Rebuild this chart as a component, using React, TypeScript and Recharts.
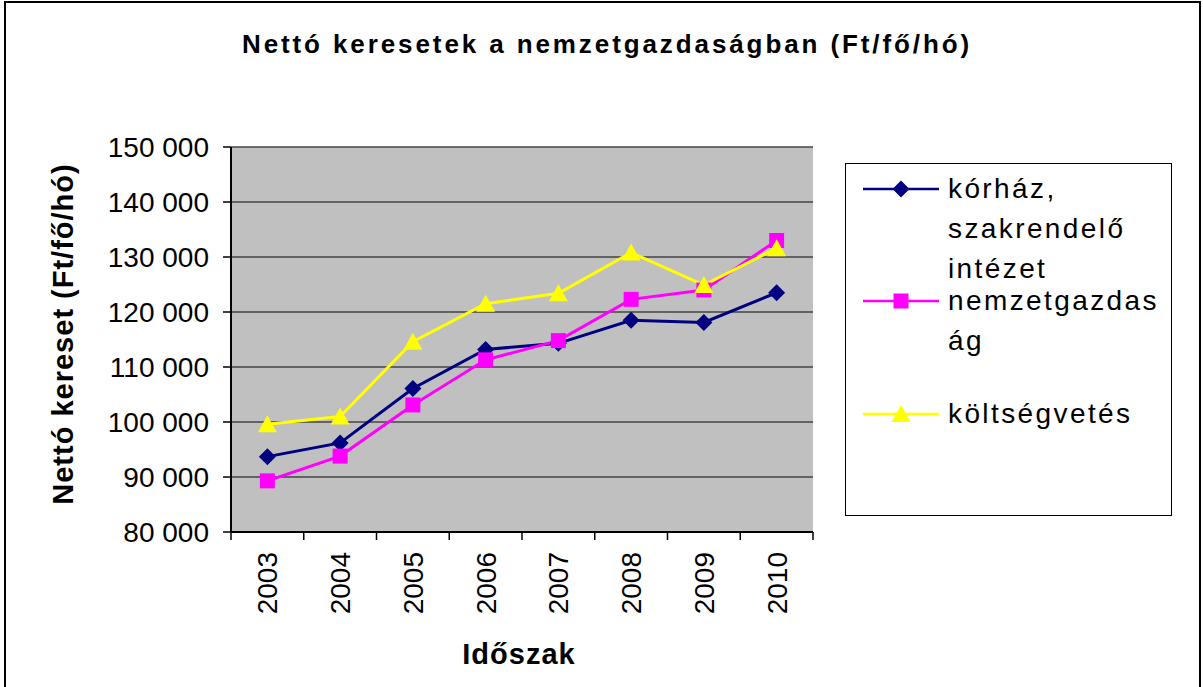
import React from 'react';
import { LineChart, Line, XAxis, YAxis, CartesianGrid } from 'recharts';

const YEARS = ['2003', '2004', '2005', '2006', '2007', '2008', '2009', '2010'];
const KORHAZ = [93700, 96200, 106100, 113200, 114300, 118500, 118100, 123500];
const NEMZETGAZDASAG = [89300, 93800, 103100, 111300, 114800, 122300, 124000, 133000];
const KOLTSEGVETES = [99600, 101000, 114600, 121500, 123400, 130800, 124900, 131600];
const Y_TICKS = [80000, 90000, 100000, 110000, 120000, 130000, 140000, 150000];

const TITLE = 'Nettó keresetek a nemzetgazdaságban (Ft/fő/hó)';
const Y_TITLE = 'Nettó kereset (Ft/fő/hó)';
const X_TITLE = 'Időszak';

// legend text is wrapped the same way as in the original
const LEGEND_LINES = [['kórház,', 'szakrendelő', 'intézet'], ['nemzetgazdas', 'ág'], ['költségvetés']];

const FONT = '"Liberation Sans", Arial, sans-serif';
const W = 1203;
const H = 687;
const MARGIN = { top: 147, right: 390, left: 0, bottom: 0 };
const Y_AXIS_W = 231;
const X_AXIS_H = 155;
const PLOT_W = W - MARGIN.right - Y_AXIS_W;
const BAND = PLOT_W / YEARS.length;

type Shape = 'diamond' | 'square' | 'triangle';

const series: { key: string; name: string; color: string; shape: Shape }[] = [
  { key: 'korhaz', name: 'kórház, szakrendelő intézet', color: '#000080', shape: 'diamond' },
  { key: 'nemzet', name: 'nemzetgazdaság', color: '#FF00FF', shape: 'square' },
  { key: 'koltseg', name: 'költségvetés', color: '#FFFF00', shape: 'triangle' },
];

const data = YEARS.map((year, i) => ({
  year,
  korhaz: KORHAZ[i],
  nemzet: NEMZETGAZDASAG[i],
  koltseg: KOLTSEGVETES[i],
}));

const fmt = (v: number) => String(v).replace(/\B(?=(\d{3})+(?!\d))/g, ' ');

const Marker = ({ cx, cy, shape, color }: { cx: number; cy: number; shape: Shape; color: string }) => {
  if (shape === 'diamond') {
    return <polygon points={`${cx},${cy - 8.5} ${cx + 8.5},${cy} ${cx},${cy + 8.5} ${cx - 8.5},${cy}`} fill={color} />;
  }
  if (shape === 'square') {
    return <rect x={cx - 7.5} y={cy - 7.5} width={15} height={15} fill={color} />;
  }
  return <polygon points={`${cx},${cy - 9} ${cx + 9.5},${cy + 8} ${cx - 9.5},${cy + 8}`} fill={color} />;
};

const dotFor = (shape: Shape, color: string) => (p: any) => {
  if (p.cx == null || p.cy == null) return <g key={p.index} />;
  return (
    <g key={`${shape}-${p.index}`}>
      <Marker cx={p.cx} cy={p.cy} shape={shape} color={color} />
    </g>
  );
};

const YearTick = (props: any) => {
  const { x, y, payload, index } = props;
  const last = index === YEARS.length - 1;
  return (
    <g>
      <line x1={x - BAND / 2} y1={y} x2={x - BAND / 2} y2={y + 8} stroke="#000" strokeWidth={1.5} />
      {last && <line x1={x + BAND / 2} y1={y} x2={x + BAND / 2} y2={y + 8} stroke="#000" strokeWidth={1.5} />}
      <text
        x={x}
        y={y + 20}
        transform={`rotate(-90, ${x}, ${y + 20})`}
        textAnchor="end"
        dy="0.36em"
        fontSize={28}
        fontFamily={FONT}
        fill="#000"
      >
        {payload.value}
      </text>
    </g>
  );
};

export default function App() {
  return (
    <div style={{ position: 'fixed', left: 0, top: 0, width: W, height: H, overflow: 'hidden', background: '#fff', fontFamily: FONT }}>
      <div style={{ position: 'absolute', left: 4, top: 1, width: 1193, height: 720, border: '2px solid #000' }} />

      <LineChart width={W} height={H} data={data} margin={MARGIN}>
        <CartesianGrid vertical={false} fill="#C0C0C0" fillOpacity={1} stroke="#444" strokeWidth={1.5} />
        <XAxis
          dataKey="year"
          interval={0}
          height={X_AXIS_H}
          padding={{ left: BAND / 2, right: BAND / 2 }}
          tickLine={false}
          tickSize={0}
          tickMargin={0}
          axisLine={{ stroke: '#000', strokeWidth: 2 }}
          tick={<YearTick />}
        />
        <YAxis
          width={Y_AXIS_W}
          domain={[80000, 150000]}
          ticks={Y_TICKS}
          tickFormatter={fmt}
          tickSize={8}
          tickMargin={14}
          axisLine={{ stroke: '#000', strokeWidth: 2 }}
          tickLine={{ stroke: '#000', strokeWidth: 1.5 }}
          tick={{ fontSize: 28, fill: '#000', fontFamily: FONT }}
          allowDataOverflow
        />
        <YAxis
          yAxisId="edge"
          orientation="right"
          width={0}
          domain={[80000, 150000]}
          tick={false}
          tickLine={false}
          axisLine={{ stroke: '#808080', strokeWidth: 2 }}
        />
        {series.map((s) => (
          <Line
            key={s.key}
            dataKey={s.key}
            name={s.name}
            type="linear"
            stroke={s.color}
            strokeWidth={3}
            dot={dotFor(s.shape, s.color)}
            activeDot={false}
            isAnimationActive={false}
          />
        ))}
      </LineChart>

      <div
        style={{
          position: 'absolute',
          left: 607,
          top: 31,
          transform: 'translateX(-50%)',
          whiteSpace: 'nowrap',
          fontSize: 26,
          lineHeight: '26px',
          fontWeight: 'bold',
          letterSpacing: 2.9,
        }}
      >
        {TITLE}
      </div>

      <div
        style={{
          position: 'absolute',
          left: 63,
          top: 334,
          transform: 'translate(-50%, -50%) rotate(-90deg)',
          whiteSpace: 'nowrap',
          fontSize: 29,
          lineHeight: '29px',
          fontWeight: 'bold',
          letterSpacing: 1,
        }}
      >
        {Y_TITLE}
      </div>

      <div
        style={{
          position: 'absolute',
          left: 519,
          top: 640,
          transform: 'translateX(-50%)',
          whiteSpace: 'nowrap',
          fontSize: 29,
          lineHeight: '29px',
          fontWeight: 'bold',
          letterSpacing: 1,
        }}
      >
        {X_TITLE}
      </div>

      <div
        style={{
          position: 'absolute',
          left: 845,
          top: 163,
          width: 327,
          height: 353,
          border: '1px solid #000',
          boxSizing: 'border-box',
          background: '#fff',
        }}
      >
        {series.map((s, i) => {
          const rowTop = [5, 117, 230][i];
          return (
            <div key={s.key} style={{ position: 'absolute', left: 0, top: rowTop }}>
              <svg width={76} height={40} style={{ position: 'absolute', left: 17, top: 0 }}>
                <line x1={0} y1={20} x2={76} y2={20} stroke={s.color} strokeWidth={2.5} />
                <Marker cx={38} cy={20} shape={s.shape} color={s.color} />
              </svg>
              <div style={{ position: 'absolute', left: 102, top: 0, fontSize: 28, lineHeight: '40px', letterSpacing: 2.4, whiteSpace: 'nowrap' }}>
                {LEGEND_LINES[i].map((t) => (
                  <div key={t}>{t}</div>
                ))}
              </div>
            </div>
          );
        })}
      </div>
    </div>
  );
}
